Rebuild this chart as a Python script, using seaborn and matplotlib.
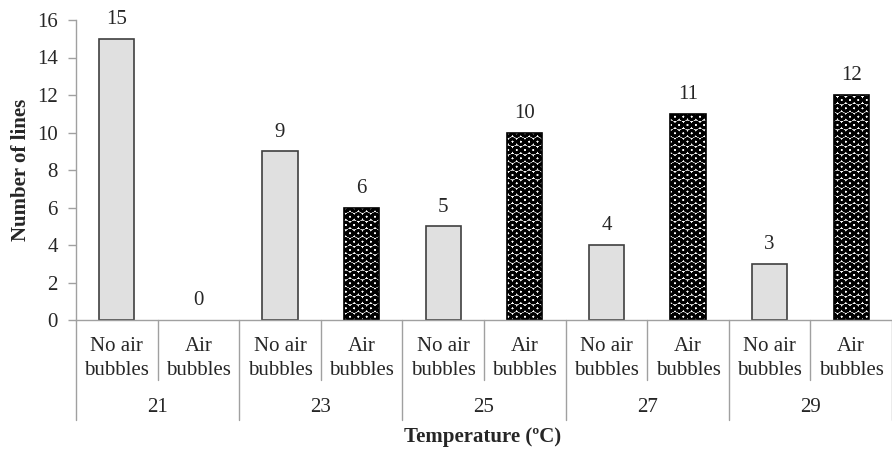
import numpy as np
import pandas as pd
import seaborn as sns
import matplotlib.pyplot as plt
import matplotlib.transforms as mtransforms

temperatures = ["21", "23", "25", "27", "29"]
conditions = ["No air\nbubbles", "Air\nbubbles"]
no_air = [15, 9, 5, 4, 3]
air = [0, 6, 10, 11, 12]

rows = []
for i, t in enumerate(temperatures):
    rows.append({"slot": 2 * i, "cond": "No air", "lines": no_air[i]})
    rows.append({"slot": 2 * i + 1, "cond": "Air", "lines": air[i]})
df = pd.DataFrame(rows)

sns.set_style("white")
plt.rcParams["font.family"] = ["Liberation Serif", "DejaVu Serif"]
plt.rcParams["hatch.linewidth"] = 2.0

fs = 15
fig = plt.figure(figsize=(8.92, 4.51), dpi=100)
ax = fig.add_axes([76 / 892, 1 - 320 / 451, 1 - 76 / 892, 300 / 451])

sns.barplot(data=df, x="slot", y="lines", hue="cond", dodge=False,
            palette={"No air": "#e0e0e0", "Air": "white"},
            width=0.43, edgecolor="#404040", linewidth=1.2,
            legend=False, ax=ax, errorbar=None)

for ci, cont in enumerate(ax.containers):
    for bar in cont:
        if ci == 1:
            bar.set_hatch("OO")
            bar.set_edgecolor("black")
        if bar.get_height() == 0:
            bar.set_linewidth(0)
    ax.bar_label(cont, fmt="%d", padding=7, fontsize=fs)

ax.set_xlim(-0.5, 9.5)
ax.set_ylim(0, 16)
ax.set_yticks(range(0, 17, 2))
ax.tick_params(axis="y", labelsize=fs, length=6, width=1, color="#a0a0a0",
               direction="out", left=True, pad=7)
ax.set_xticks(range(10))
ax.set_xticklabels([conditions[k % 2] for k in range(10)], fontsize=fs,
                   linespacing=1.35)
ax.tick_params(axis="x", length=0, pad=12)

for s in ["top", "right"]:
    ax.spines[s].set_visible(False)
for s in ["left", "bottom"]:
    ax.spines[s].set_color("#a0a0a0")
    ax.spines[s].set_linewidth(1)

trans = mtransforms.blended_transform_factory(ax.transData, ax.transAxes)
for k in range(6):
    x = 2 * k - 0.5
    ax.plot([x, x], [0, -0.333], transform=trans, color="#a0a0a0", lw=1,
            clip_on=False)
for k in range(5):
    x = 2 * k + 0.5
    ax.plot([x, x], [0, -0.2], transform=trans, color="#a0a0a0", lw=1,
            clip_on=False)
    ax.text(2 * k + 0.5, -0.29, temperatures[k], transform=trans,
            ha="center", va="center", fontsize=fs)

ax.set_xlabel("")
ax.set_ylabel("Number of lines", fontsize=fs, fontweight="bold")
ax.yaxis.set_label_coords(-(76 - 31) / 816, 0.5)
fig.text(483 / 892, 1 - 437 / 451, "Temperature (ºC)", ha="center",
         va="center", fontsize=fs, fontweight="bold")

fig.savefig("out.png", dpi=100)
